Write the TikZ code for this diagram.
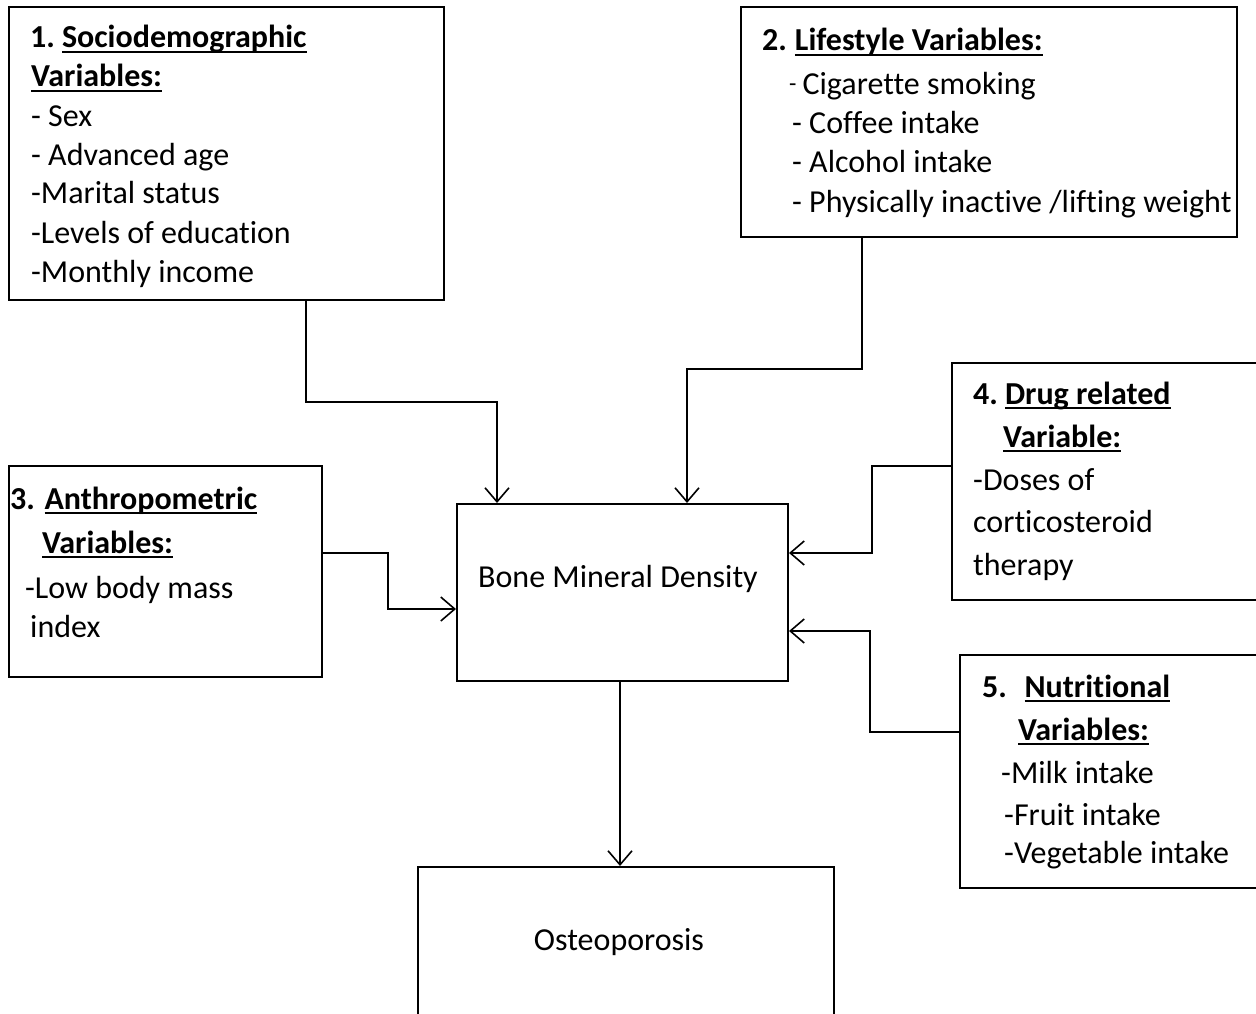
\documentclass[tikz,border=0pt]{standalone}
\usepackage{fontspec}
\setmainfont{Carlito}[Ligatures=NoCommon]
\usetikzlibrary{arrows.meta}
\newlength\myulw
\newcommand\myul[1]{\settowidth\myulw{#1}\rlap{\rule[-5pt]{\myulw}{2pt}}#1}
\tikzset{
  box/.style={draw, line width=2pt, inner sep=0pt},
  txt/.style={anchor=base west, inner sep=0pt, font=\fontsize{32}{39}\selectfont},
  ctr/.style={anchor=base, inner sep=0pt, font=\fontsize{32}{39}\selectfont},
  conn/.style={line width=1.6pt, -{Straight Barb[length=14pt,width=24pt,line width=1.6pt]}},
  plain/.style={line width=1.6pt}
}
\begin{document}
\begin{tikzpicture}[x=1pt,y=-1pt]
\useasboundingbox (0,0) rectangle (1256,1014);
% boxes
\draw[box] (9,7) rectangle (444,300);
\coordinate (b1s) at (306,300);
\draw[box] (741,7) rectangle (1237,237);
\coordinate (b2s) at (862,237);
\draw[box] (9,466) rectangle (322,677);
\coordinate (b3e) at (322,553);
\draw[box] (952,363) rectangle (1262,600);
\coordinate (b4w) at (952,466);
\draw[box] (960,655) rectangle (1262,888);
\coordinate (b5w) at (960,732);
\node[box, minimum width=331pt, minimum height=177pt] (bmd) at (622.5,592.5) {};
\node[box, minimum width=416pt, minimum height=170pt] (ost) at (626,952) {};
% texts box1
\node[txt] (t1a) at (30,48) {\textbf{1.\hspace{0.22em}\myul{Sociodemographic}}};
\node[txt] (t1b) at (31,87) {\textbf{\myul{Variables:}}};
\node[txt] (t1c) at (31,127) {- Sex};
\node[txt] (t1d) at (31,166) {- Advanced age};
\node[txt] (t1e) at (31,204) {-Marital status};
\node[txt] (t1f) at (31,243) {-Levels of education};
\node[txt] (t1g) at (31,282) {-Monthly income};
% box2
\node[txt] (t2a) at (762,51) {\textbf{2.\hspace{0.25em}\myul{Lifestyle Variables:}}};
\node[txt] (t2b) at (789,95) {\raisebox{3pt}{\fontsize{24}{24}\selectfont -}\hspace{6pt}Cigarette smoking};
\node[txt] (t2c) at (792,134) {- Coffee intake};
\node[txt] (t2d) at (792,173) {- Alcohol intake};
\node[txt] (t2e) at (792,212) {- Physically inactive /lifting weight};
% box3
\node[txt] (t3a) at (10,509) {\textbf{3.\hspace{0.3em}\myul{Anthropometric}}};
\node[txt] (t3b) at (42,553) {\textbf{\myul{Variables:}}};
\node[txt] (t3c) at (25,598) {-Low body mass};
\node[txt] (t3d) at (30,637) {index};
% box4
\node[txt] (t4a) at (973,404) {\textbf{4.\hspace{0.22em}\myul{Drug related}}};
\node[txt] (t4b) at (1003,447) {\textbf{\myul{Variable:}}};
\node[txt] (t4c) at (973,490) {-Doses of};
\node[txt] (t4d) at (973,532) {corticosteroid};
\node[txt] (t4e) at (973,575) {therapy};
% box5
\node[txt] (t5a) at (982,697) {\textbf{5.\hspace{0.55em}\myul{Nutritional}}};
\node[txt] (t5b) at (1018,740) {\textbf{\myul{Variables:}}};
\node[txt] (t5c) at (1001,783) {-Milk intake};
\node[txt] (t5d) at (1004,825) {-Fruit intake};
\node[txt] (t5e) at (1004,863) {-Vegetable intake};
% center texts
\node[ctr] (tb) at (618,587) {Bone Mineral Density};
\node[ctr] (to) at (619,950) {Osteoporosis};
% connectors
\draw[conn] (b1s) |- (497,402) -- (bmd.north -| 497,0);
\draw[conn] (b2s) |- (687,369) -- (bmd.north -| 687,0);
\draw[conn] (b3e) -| (388,609) -- (bmd.west |- 0,609);
\draw[conn] (b4w) -| (872,553) -- (bmd.east |- 0,553);
\draw[conn] (b5w) -| (870,631) -- (bmd.east |- 0,631);
\draw[conn] (bmd.south -| 620,0) -- (ost.north -| 620,0);
\end{tikzpicture}
\end{document}
